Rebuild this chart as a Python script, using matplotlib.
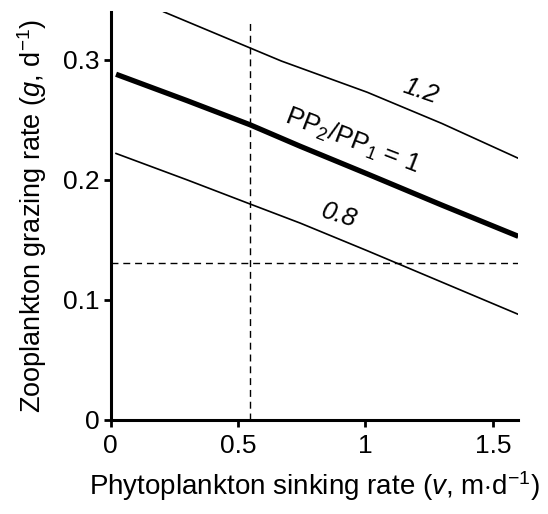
import matplotlib.pyplot as plt

plt.rcParams['font.family'] = ['Liberation Sans', 'DejaVu Sans']
plt.rcParams['mathtext.fontset'] = 'custom'
plt.rcParams['mathtext.rm'] = 'Liberation Sans'
plt.rcParams['mathtext.it'] = 'Liberation Sans:italic'

# Courbes PP2/PP1
x_12 = [0.208, 0.546, 0.670, 1.007, 1.300, 1.600]
y_12 = [0.340, 0.310, 0.299, 0.273, 0.247, 0.218]

x_10 = [0.021, 0.300, 0.546, 0.744, 1.007, 1.300, 1.600]
y_10 = [0.288, 0.266, 0.246, 0.228, 0.205, 0.179, 0.153]

x_08 = [0.021, 0.300, 0.546, 0.744, 1.007, 1.119, 1.600]
y_08 = [0.222, 0.200, 0.180, 0.164, 0.141, 0.131, 0.088]

v_ref = 0.545  # trait vertical
g_ref = 0.131  # trait horizontal

fig = plt.figure(figsize=(5.48, 5.14), dpi=100)
ax = fig.add_axes([0.202, 0.1829, 0.7438, 0.7941])

ax.plot(x_12, y_12, color='black', lw=1.2)
ax.plot(x_10, y_10, color='black', lw=3.8, solid_capstyle='butt')
ax.plot(x_08, y_08, color='black', lw=1.2)

dash = (0, (5, 3.5))
ax.plot([v_ref, v_ref], [0, 0.3325], color='black', lw=1.0, ls=dash)
ax.plot([0, 1.6], [g_ref, g_ref], color='black', lw=1.0, ls=dash)

ax.text(1.218, 0.274, '1.2', fontsize=18.5, style='italic', rotation=-19,
        ha='center', va='center')
ax.text(0.895, 0.170, '0.8', fontsize=18.5, style='italic', rotation=-17,
        ha='center', va='center')
ax.text(0.947, 0.2325, r'PP$_2$/PP$_1$ = 1', fontsize=18.5, rotation=-21,
        ha='center', va='center')

ax.set_xlim(0, 1.6)
ax.set_ylim(0, 0.34)
ax.set_xticks([0, 0.5, 1, 1.5])
ax.set_xticklabels(['0', '0.5', '1', '1.5'])
ax.set_yticks([0, 0.1, 0.2, 0.3])
ax.set_yticklabels(['0', '0.1', '0.2', '0.3'])
ax.tick_params(direction='out', length=5, width=2, labelsize=19, pad=3)
ax.tick_params(axis='x', pad=5)

for s in ['top', 'right']:
    ax.spines[s].set_visible(False)
for s in ['left', 'bottom']:
    ax.spines[s].set_linewidth(2.2)

ax.set_xlabel(r'Phytoplankton sinking rate ($v$, m$\cdot$d$^{-1}$)', fontsize=20, labelpad=8)
ax.set_ylabel(r'Zooplankton grazing rate ($g$, d$^{-1}$)', fontsize=19.5, labelpad=10)

fig.savefig('out.png', dpi=100)
